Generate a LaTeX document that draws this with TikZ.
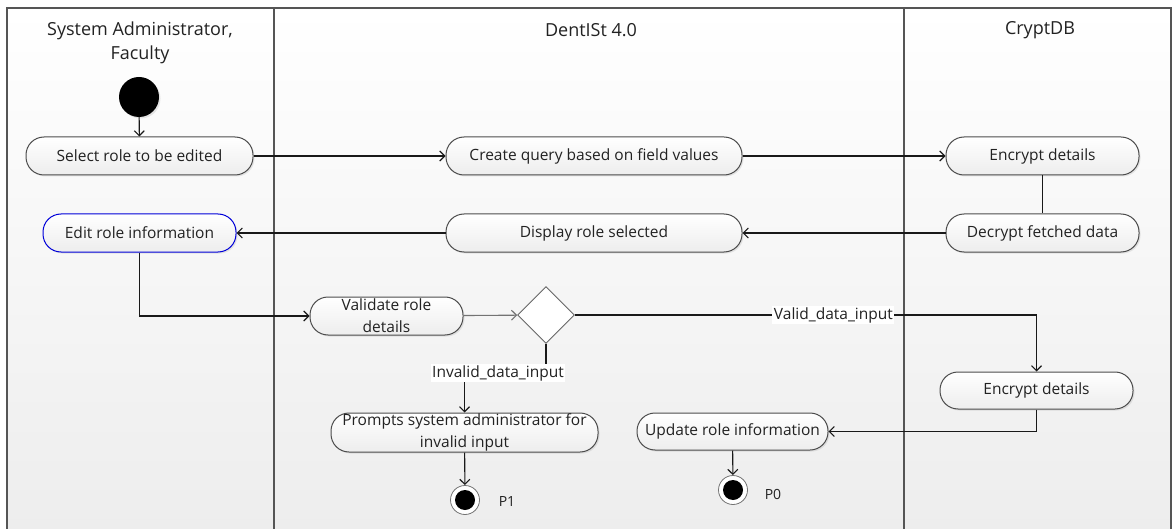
\documentclass[tikz,border=0pt]{standalone}
\usepackage{fontspec}
\setmainfont{Open Sans}
\usetikzlibrary{arrows.meta,shapes.geometric,shadows}
\definecolor{frm}{HTML}{555555}
\definecolor{txt}{HTML}{222222}
\tikzset{
  frame/.style={draw=frm, line width=1.2pt},
  act/.style={rectangle, rounded corners=18pt, draw=black!70, line width=1pt, minimum height=38pt,
    inner sep=0pt, align=center, text=txt, font=\fontsize{15.5}{22}\selectfont,
    top color=white, bottom color=black!7,
    drop shadow={opacity=0.18, shadow xshift=1.5pt, shadow yshift=-1.5pt}},
  conn/.style={draw=black!90, line width=1.1pt},
  arr/.style={conn, -{Straight Barb[length=5pt,width=10pt]}},
  lbl/.style={fill=white, inner sep=1.5pt, text=txt, font=\fontsize{15.5}{18}\selectfont},
  hdr/.style={text=txt, align=center, font=\fontsize{18}{24}\selectfont},
  endnode/.style={circle, draw=black!55, line width=0.8pt, fill=white, minimum size=29pt, inner sep=0pt,
    path picture={\fill[black] (path picture bounding box.center) circle (10pt);}},
}
\begin{document}
\begin{tikzpicture}[x=1pt,y=-1pt]
\useasboundingbox (0,0) rectangle (1174,529);
\shade[top color=white, bottom color=black!7] (7,8) rectangle (1171,529);
\draw[frame] (7,529) -- (7,8) -- (1171,8) -- (1171,529);
\draw[frame] (274,8) -- (274,529);
\draw[frame] (904,8) -- (904,529);
% headers
\node[hdr] (h1) at (140,43) {System Administrator,\\Faculty};
\node[hdr] (h2) at (591,30) {DentISt 4.0};
\node[hdr] (h3) at (1040,30) {CryptDB};
% nodes
\node[circle, fill=black, minimum size=40pt, inner sep=0pt,
  drop shadow={opacity=0.18, shadow xshift=1.5pt, shadow yshift=-1.5pt}] (start) at (139,97) {};
\node[act, minimum width=227pt] (sel) at (139.5,156) {Select role to be edited};
\node[act, minimum width=296pt] (crt) at (594,156) {Create query based on field values};
\node[act, minimum width=193pt] (enc1) at (1042.5,156) {Encrypt details};
\node[act, minimum width=193pt, draw=blue!85!black] (edit) at (139.5,233) {Edit role information};
\node[act, minimum width=296pt] (disp) at (594,233) {Display role selected};
\node[act, minimum width=193pt] (dec) at (1042.5,233) {Decrypt fetched data};
\node[act, minimum width=153pt] (val) at (386.5,316) {Validate role\\details};
\node[diamond, draw=black!60, line width=0.9pt, fill=white, minimum width=57pt, minimum height=57pt, inner sep=0pt] (dia) at (546,315) {};
\node[act, minimum width=267pt, minimum height=39pt] (prm) at (464.5,432.5) {Prompts system administrator for\\invalid input};
\node[act, minimum width=193pt, minimum height=37pt] (enc2) at (1036.5,390.5) {Encrypt details};
\node[act, minimum width=191pt, minimum height=37pt] (upd) at (732.5,431.5) {Update role information};
\node[endnode] (e1) at (465,500) {};
\node[endnode] (e0) at (733,490) {};
\node[text=txt, font=\fontsize{14}{16}\selectfont] (p1) at (507,501) {P1};
\node[text=txt, font=\fontsize{14}{16}\selectfont] (p0) at (773,494) {P0};
% connectors
\draw[arr] (start) -- (sel);
\draw[arr] (sel) -- (crt);
\draw[arr] (crt) -- (enc1);
\draw[conn] (enc1) -- (dec);
\draw[arr] (dec) -- (disp);
\draw[arr] (disp) -- (edit);
\draw[arr] (edit.south) |- (val.west);
\draw[arr, draw=black!55] (val) -- (dia);
\draw[arr] (dia.east) -| node[lbl, pos=0.28] (vl) {Valid\_data\_input} (enc2.north);
\draw[arr] (dia.south) -- (546,373) -| (prm.north);
\node[lbl] (il) at (498,373) {Invalid\_data\_input};
\draw[arr] (enc2.south) |- (upd.east);
\draw[arr] (prm) -- (e1);
\draw[arr] (upd) -- (e0);
\end{tikzpicture}
\end{document}
